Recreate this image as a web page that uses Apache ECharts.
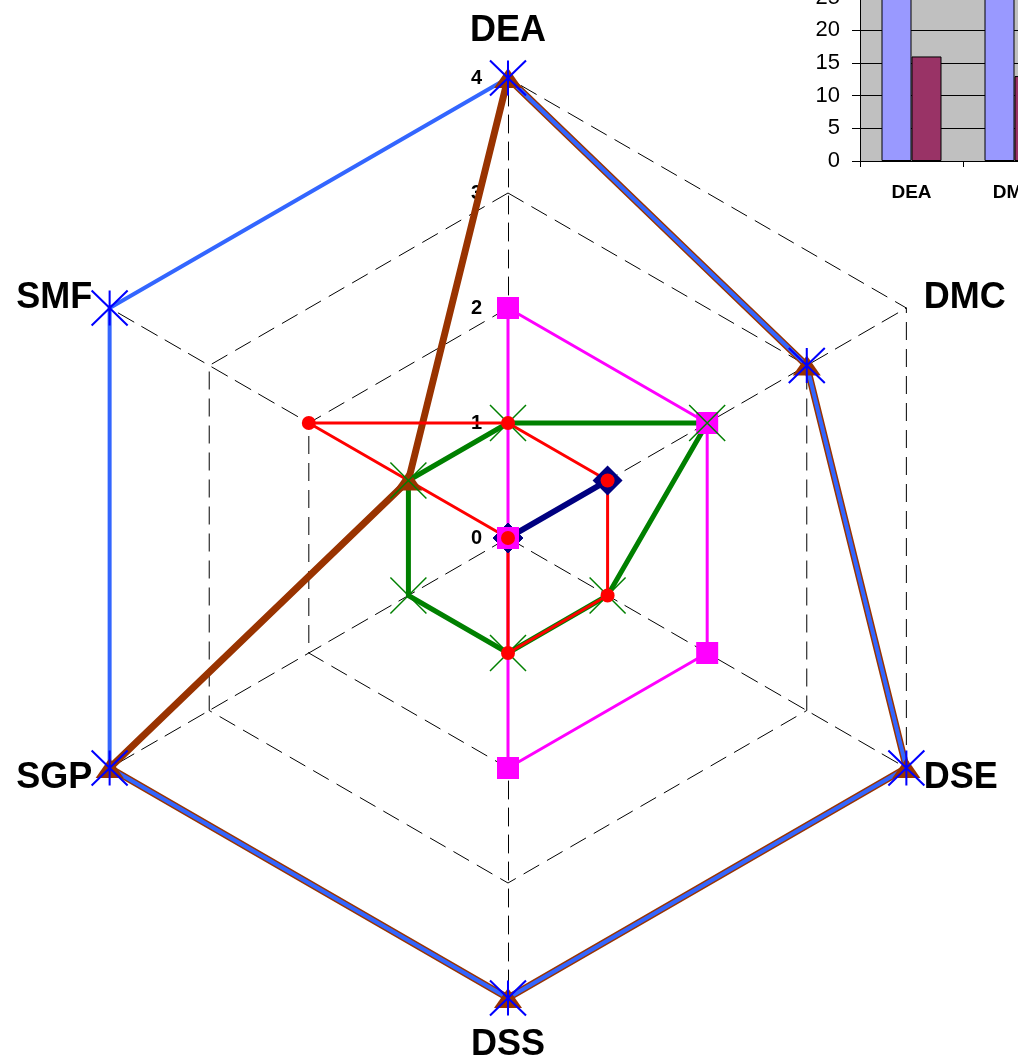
<!DOCTYPE html>
<html>
<head>
<meta charset="utf-8">
<script src="https://cdn.jsdelivr.net/npm/echarts@6/dist/echarts.min.js"></script>
<style>
html,body{margin:0;padding:0;background:#fff;}
#chart{width:1018px;height:1061px;}
</style>
</head>
<body>
<div id="chart"></div>
<script>
// Radar axes (counter-clockwise from top)
var categories = ['DEA', 'SMF', 'SGP', 'DSS', 'DSE', 'DMC'];
var tickLabels = ['0', '1', '2', '3', '4'];
var navyValues    = [0, 0, 0, 0, 0, 1];
var magentaValues = [2, 0, 0, 2, 2, 2];
var brownValues   = [4, 1, 4, 4, 4, 3];
var blueValues    = [4, 4, 4, 4, 4, 3];
var greenValues   = [1, 1, 1, 1, 1, 2];
var redValues     = [1, 2, 0, 1, 1, 1];

// Inset bar chart (partly cut off in the reference)
var barCategories = ['DEA', 'DMC'];
var barValuesA = [28, 28];
var barValuesB = [16, 13];

var FONT = 'Liberation Sans, Arial, sans-serif';
var starPath = 'path://M0,0L36,35M36,0L0,35M18,0L18,35';
var xPath = 'path://M0,0L36,36M36,0L0,36';

var indicator = categories.map(function (c, i) {
  var o = { name: c, min: 0, max: 4 };
  if (i === 0) {
    o.axisLabel = {
      show: true, color: '#000', fontSize: 20, fontWeight: 'bold', fontFamily: FONT, margin: 26,
      formatter: function (v) { return tickLabels[Math.round(v)] || ''; }
    };
  }
  return o;
});

var nameFont = { color: '#000', fontSize: 36, fontWeight: 'bold', fontFamily: FONT };

function radarSeries(values, lineColor, lineWidth, symbol, size, markerColor, border) {
  return {
    type: 'radar',
    symbol: symbol,
    symbolSize: size,
    itemStyle: border ? { color: markerColor, borderColor: markerColor, borderWidth: border } : { color: markerColor, borderWidth: 0 },
    lineStyle: { color: lineColor, width: lineWidth, type: 'solid' },
    data: [{ value: values }]
  };
}

var chart = echarts.init(document.getElementById('chart'), null, { renderer: 'canvas' });
chart.setOption({
  animation: false,
  backgroundColor: '#fff',
  radar: {
    center: [508, 538],
    radius: 460,
    startAngle: 90,
    splitNumber: 4,
    shape: 'polygon',
    indicator: indicator,
    nameGap: 20,
    axisName: Object.assign({
      formatter: function (name) {
        if (name === 'DEA') return '{t|' + name + '}';
        if (name === 'DSS') return '{b|' + name + '}';
        return name;
      },
      rich: {
        t: Object.assign({ padding: [0, 0, 9, 0] }, nameFont),
        b: Object.assign({ padding: [9, 0, 0, 0] }, nameFont)
      }
    }, nameFont),
    axisLine: { show: true, lineStyle: { color: '#000', width: 1, type: [18, 9] } },
    splitLine: { show: true, lineStyle: { color: '#000', width: 1, type: [18, 9] } },
    splitArea: { show: false },
    axisTick: { show: false },
    axisLabel: { show: false }
  },
  grid: {
    left: 860, top: -35, width: 206, height: 196,
    outerBoundsMode: 'none', containLabel: false,
    show: true, backgroundColor: '#C0C0C0', borderWidth: 0
  },
  xAxis: {
    type: 'category', data: barCategories,
    axisLine: { show: true, lineStyle: { color: '#000', width: 1 } },
    axisTick: { show: true, length: 6, lineStyle: { color: '#000' } },
    axisLabel: { color: '#000', fontSize: 19, fontWeight: 'bold', fontFamily: FONT, margin: 22 },
    splitLine: { show: false }
  },
  yAxis: {
    type: 'value', min: 0, max: 30, interval: 5,
    axisLine: { show: true, lineStyle: { color: '#000', width: 1 } },
    axisTick: { show: true, length: 8, lineStyle: { color: '#000' } },
    axisLabel: { color: '#000', fontSize: 22, fontFamily: FONT, margin: 20 },
    splitLine: { show: true, lineStyle: { color: '#000', width: 1 } }
  },
  series: [
    radarSeries(navyValues, '#000080', 6, 'diamond', 30, '#000080'),
    radarSeries(magentaValues, '#FF00FF', 3, 'rect', 22, '#FF00FF'),
    radarSeries(brownValues, '#993300', 7, 'triangle', [28, 20], '#993300'),
    radarSeries(blueValues, '#3366FF', 4, starPath, [36, 35], '#0000FF', 2),
    radarSeries(greenValues, '#008000', 5, xPath, 36, '#008000', 1.5),
    radarSeries(redValues, '#FF0000', 3, 'circle', 14, '#FF0000'),
    {
      type: 'bar', data: barValuesA, barWidth: 30, barGap: '0%',
      itemStyle: { color: '#9999FF', borderColor: '#000', borderWidth: 1 }
    },
    {
      type: 'bar', data: barValuesB, barWidth: 30, barGap: '0%',
      itemStyle: { color: '#993366', borderColor: '#000', borderWidth: 1 }
    }
  ]
});
</script>
</body>
</html>
